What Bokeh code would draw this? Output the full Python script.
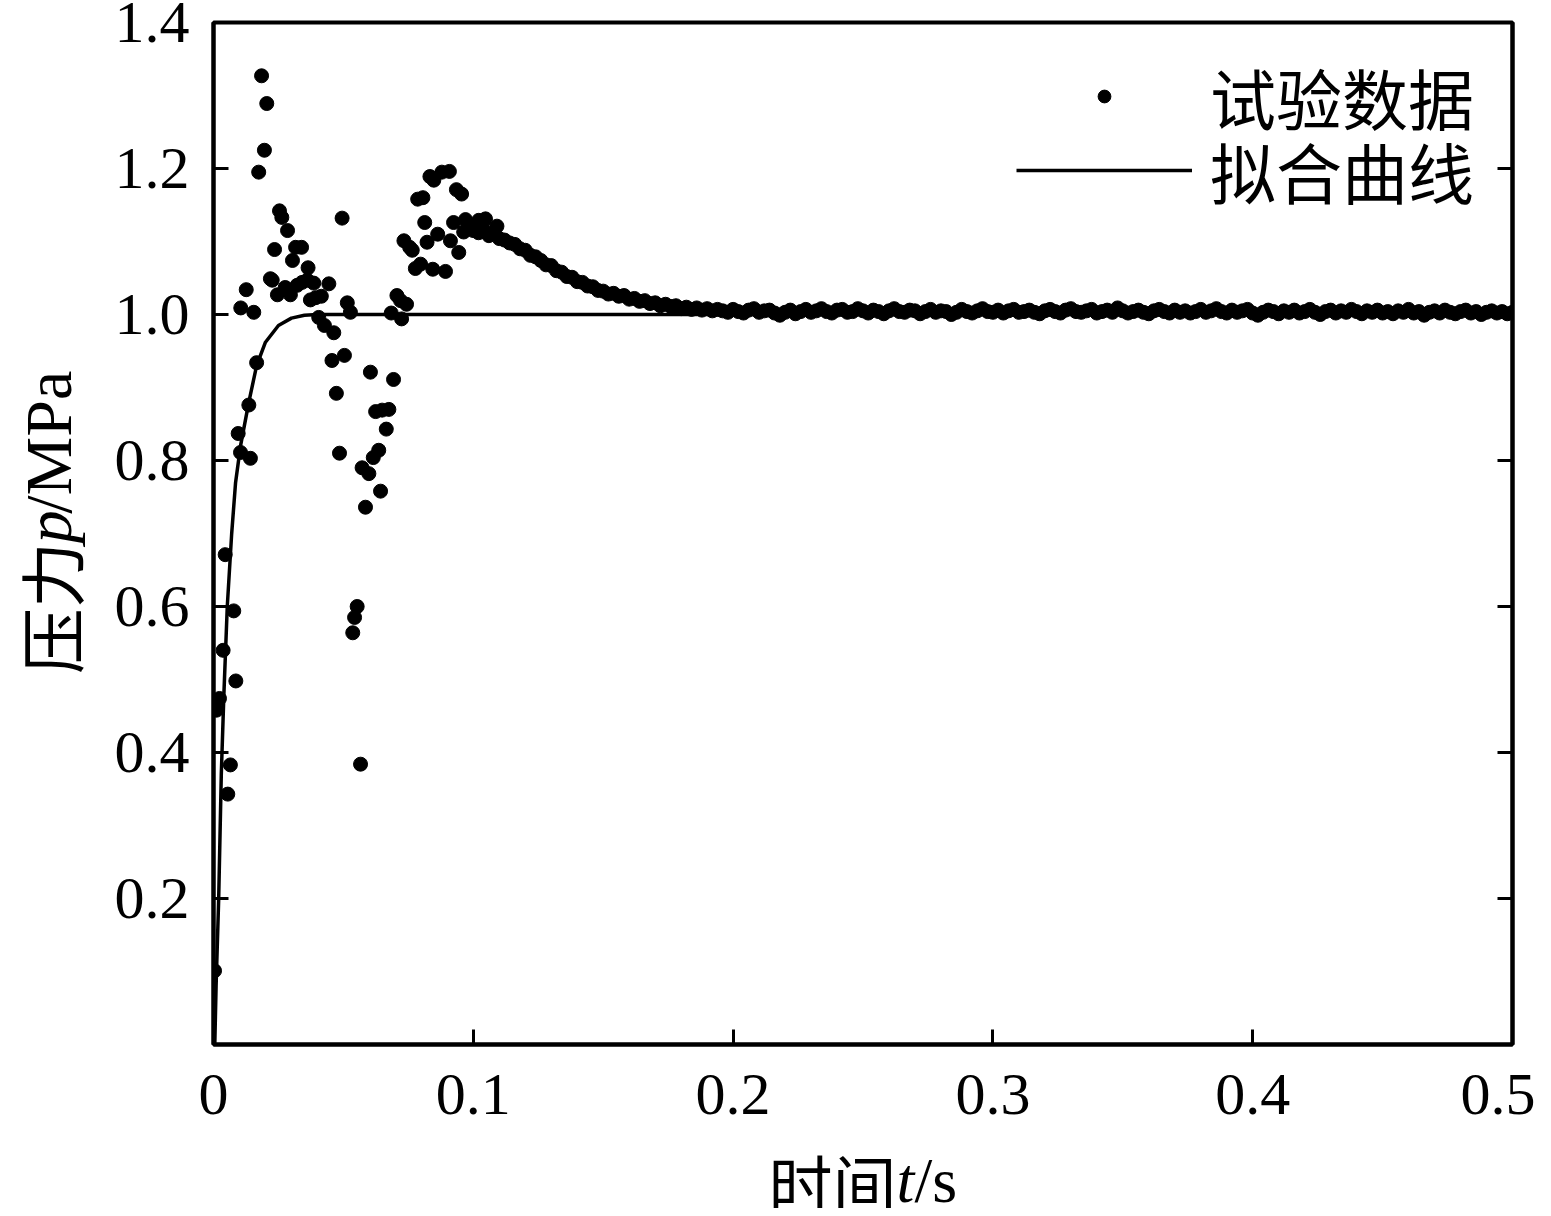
import numpy as np
from bokeh.plotting import figure
from bokeh.models import (Range1d, LinearAxis, FixedTicker, NumeralTickFormatter,
                          Legend, LegendItem, Spacer)
from bokeh.layouts import row, column
from bokeh.core.properties import value
from bokeh.embed import file_html
from bokeh.resources import INLINE

# ---- experimental data: early scattered samples (t in s, p in MPa) ----
early_t = [0.0004, 0.0012, 0.0023, 0.0037, 0.0045, 0.0055, 0.0065, 0.0078, 0.0086, 0.0095,
           0.0104, 0.0105, 0.0126, 0.0136, 0.0142, 0.0155, 0.0166, 0.0174, 0.0185, 0.0196,
           0.0205, 0.0219, 0.0226, 0.0235, 0.0246, 0.0254, 0.0263, 0.0276, 0.0285, 0.0296,
           0.0304, 0.0316, 0.0322, 0.0339, 0.0341, 0.0361, 0.0364, 0.0373, 0.0386, 0.0393,
           0.0405, 0.0415, 0.0427, 0.0444, 0.0456, 0.0463, 0.0473, 0.0485, 0.0495, 0.0504,
           0.0515, 0.0527, 0.0536, 0.0543, 0.0553, 0.0566, 0.0572, 0.0585, 0.0598, 0.0604,
           0.0615, 0.0624, 0.0636, 0.0643, 0.0649, 0.0665, 0.0675, 0.0684, 0.0693, 0.0706,
           0.0720, 0.0724, 0.0733, 0.0743, 0.0755, 0.0765, 0.0777, 0.0786, 0.0797, 0.0806,
           0.0813, 0.0822, 0.0833, 0.0844, 0.0848, 0.0863, 0.0879, 0.0893, 0.0908, 0.0912,
           0.0924, 0.0935, 0.0944, 0.0955, 0.0963, 0.0970, 0.1002, 0.1021, 0.1047, 0.1091]
early_p = [0.101, 0.458, 0.474, 0.540, 0.671, 0.343, 0.383, 0.594, 0.498, 0.837,
           0.811, 1.009, 1.034, 0.876, 0.803, 1.003, 0.934, 1.195, 1.327, 1.225,
           1.289, 1.049, 1.047, 1.089, 1.027, 1.142, 1.133, 1.037, 1.115, 1.027,
           1.074, 1.092, 1.040, 1.092, 1.044, 1.047, 1.064, 1.020, 1.043, 1.023,
           0.996, 1.025, 0.985, 1.042, 0.937, 0.975, 0.892, 0.810, 1.132, 0.944,
           1.016, 1.003, 0.564, 0.585, 0.600, 0.384, 0.790, 0.736, 0.782, 0.921,
           0.804, 0.867, 0.814, 0.758, 0.869, 0.843, 0.870, 1.002, 0.911, 1.026,
           1.019, 0.994, 1.101, 1.014, 1.092, 1.088, 1.063, 1.158, 1.069, 1.160,
           1.126, 1.099, 1.189, 1.062, 1.184, 1.110, 1.195, 1.059, 1.196, 1.101,
           1.126, 1.171, 1.085, 1.165, 1.113, 1.130, 1.119, 1.129, 1.131, 1.121]

# ---- experimental data: regular samples every 2 ms from 0.100 s ----
sample_start = 0.100
sample_step = 0.002
band_p = [1.115, 1.112, 1.116, 1.108, 1.111, 1.104, 1.102, 1.098, 1.096, 1.090,
          1.088, 1.081, 1.079, 1.074, 1.068, 1.067, 1.060, 1.058, 1.052, 1.051,
          1.045, 1.044, 1.039, 1.038, 1.033, 1.032, 1.028, 1.029, 1.025, 1.026,
          1.021, 1.022, 1.018, 1.019, 1.015, 1.016, 1.012, 1.014, 1.011, 1.012,
          1.008, 1.010, 1.007, 1.009, 1.006, 1.008, 1.005, 1.007]
tail_p = [1.005, 1.003, 1.007, 1.004, 1.002, 1.006, 1.008, 1.003, 1.005, 1.006,
          1.002, 0.999, 1.003, 1.006, 1.001, 1.004, 1.007, 1.003, 1.005, 1.008,
          1.004, 1.002, 1.006, 1.007, 1.003, 1.004, 1.008, 1.005, 1.002, 1.006,
          1.004, 1.001, 1.005, 1.008, 1.004, 1.003, 1.006, 1.005, 1.001, 1.004,
          1.007, 1.003, 1.005, 1.004, 1.000, 1.003, 1.007, 1.004, 1.002, 1.005,
          1.008, 1.004, 1.003, 1.006, 1.002, 1.005, 1.007, 1.003, 1.004, 1.006,
          1.003, 1.001, 1.005, 1.007, 1.004, 1.002, 1.006, 1.008, 1.004, 1.003,
          1.005, 1.007, 1.002, 1.004, 1.006, 1.003, 1.009, 1.005, 1.002, 1.004,
          1.006, 1.003, 1.001, 1.005, 1.007, 1.004, 1.002, 1.006, 1.003, 1.005,
          1.002, 1.004, 1.007, 1.003, 1.005, 1.008, 1.004, 1.002, 1.006, 1.003,
          1.005, 1.007, 1.002, 0.999, 1.003, 1.006, 1.004, 1.001, 1.005, 1.003,
          1.006, 1.002, 1.004, 1.007, 1.003, 1.000, 1.004, 1.006, 1.002, 1.005,
          1.003, 1.007, 1.004, 1.001, 1.005, 1.003, 1.006, 1.002, 1.004, 1.001,
          1.005, 1.003, 1.007, 1.002, 1.004, 0.999, 1.003, 1.005, 1.002, 1.006,
          1.003, 1.001, 1.004, 1.006, 1.002, 1.004, 1.000, 1.003, 1.005, 1.002,
          1.004, 1.001, 1.003]

# ---- fitted curve ----
fit_t = [0.0005, 0.0010, 0.0020, 0.0030, 0.0040, 0.0053, 0.0070, 0.0085, 0.0104, 0.0136,
         0.0166, 0.0200, 0.0250, 0.0300, 0.0350, 0.0400, 0.5000]
fit_p = [0.000, 0.080, 0.200, 0.370, 0.480, 0.600, 0.700, 0.770, 0.820, 0.880,
         0.930, 0.962, 0.985, 0.995, 0.999, 1.000, 1.000]

x_ticks = [0, 0.1, 0.2, 0.3, 0.4, 0.5]
y_ticks = [0.2, 0.4, 0.6, 0.8, 1.0, 1.2, 1.4]
legend_labels = ["试验数据", "拟合曲线"]

reg_p = band_p + tail_p
reg_t = list(np.round(sample_start + sample_step * np.arange(len(reg_p)), 4))
all_t = early_t + reg_t
all_p = early_p + reg_p

SERIF = "Liberation Serif"
CJK = "Noto Sans CJK SC"

YLAB_W = 100
TOTAL_W = 1535
MAIN_W = TOTAL_W - YLAB_W
MAIN_H = 1142
XLAB_H = 66
FRAME_L, FRAME_R, FRAME_T, FRAME_B = 213, 1512, 22, 1044

p = figure(width=MAIN_W, height=MAIN_H,
           x_range=Range1d(0, 0.5), y_range=Range1d(0, 1.4),
           output_backend="svg", toolbar_location=None,
           min_border_left=FRAME_L - YLAB_W, min_border_right=TOTAL_W - FRAME_R,
           min_border_top=FRAME_T, min_border_bottom=MAIN_H - FRAME_B)
p.background_fill_color = "white"
p.border_fill_color = "white"
p.xgrid.visible = False
p.ygrid.visible = False
p.outline_line_color = "black"
p.outline_line_width = 4

p.xaxis.ticker = FixedTicker(ticks=x_ticks)
p.yaxis.ticker = FixedTicker(ticks=y_ticks)
p.yaxis.formatter = NumeralTickFormatter(format="0.0")
for ax in (p.xaxis[0], p.yaxis[0]):
    ax.axis_line_width = 4
    ax.axis_line_color = "black"
    ax.major_tick_line_width = 3
    ax.major_tick_line_color = "black"
    ax.major_tick_in = 15
    ax.major_tick_out = 0
    ax.minor_tick_line_color = None
    ax.major_label_text_font = SERIF
    ax.major_label_text_font_size = "60px"
    ax.major_label_text_color = "black"
p.xaxis.major_label_standoff = 30
p.yaxis.major_label_standoff = 24

right_ax = LinearAxis(ticker=FixedTicker(ticks=y_ticks),
                      axis_line_width=4, axis_line_color="black",
                      major_tick_line_width=3, major_tick_line_color="black",
                      major_tick_in=15, major_tick_out=0,
                      minor_tick_line_color=None,
                      major_label_text_font_size="0px", major_label_standoff=0,
                      major_label_overrides={t: "" for t in y_ticks})
p.add_layout(right_ax, "right")

r_sc = p.scatter(all_t, all_p, size=14, marker="circle",
                 fill_color="black", line_color="black")
r_ln = p.line(fit_t, fit_p, line_width=3.5, line_color="black")

# two one-row legends so the rows can sit closer than the CJK line height
LEG_H = 104
for lab, rend, cy in [(legend_labels[0], r_sc, 92), (legend_labels[1], r_ln, 166)]:
    lg = Legend(items=[LegendItem(label=lab, renderers=[rend])],
                location=(1016 - FRAME_L, FRAME_B - (cy + LEG_H // 2)),
                glyph_width=176, glyph_height=32,
                label_standoff=18, spacing=0, padding=0, margin=0,
                label_text_font=CJK, label_text_font_size="66px",
                label_text_color="black",
                border_line_alpha=0, background_fill_alpha=0)
    p.add_layout(lg)

# ---- y-axis title panel (left); rotated text needs a baseline shift ----
ylab = figure(width=YLAB_W, height=MAIN_H, x_range=Range1d(0, YLAB_W),
              y_range=Range1d(0, MAIN_H), output_backend="svg", toolbar_location=None,
              x_axis_location=None, y_axis_location=None, min_border=0)
ylab.grid.visible = False
ylab.outline_line_color = None
ang = np.pi / 2
XC = 48
ylab.text(x=[XC], y=[MAIN_H - 680 - 48], text=["压力"], angle=ang, text_font=value(CJK),
          text_font_size="66px", text_align="left", text_baseline="middle", text_color="black")
ylab.text(x=[XC], y=[MAIN_H - 546 - 36], text=["p"], angle=ang, text_font=value(SERIF),
          text_font_style="italic", text_font_size="66px", text_align="left",
          text_baseline="middle", text_color="black")
ylab.text(x=[XC], y=[MAIN_H - 513 - 36], text=["/MPa"], angle=ang, text_font=value(SERIF),
          text_font_size="66px", text_align="left", text_baseline="middle", text_color="black")

# ---- x-axis title panel (below) ----
xlab = figure(width=MAIN_W, height=XLAB_H, x_range=Range1d(YLAB_W, TOTAL_W),
              y_range=Range1d(0, XLAB_H), output_backend="svg", toolbar_location=None,
              x_axis_location=None, y_axis_location=None, min_border=0)
xlab.grid.visible = False
xlab.outline_line_color = None
yc = MAIN_H + XLAB_H - 1180
xlab.text(x=[768], y=[yc], text=["时间"], text_font=value(CJK), text_font_size="64px",
          text_align="left", text_baseline="middle", text_color="black")
xlab.text(x=[896], y=[yc], text=["t"], text_font=value(SERIF), text_font_style="italic",
          text_font_size="64px", text_align="left", text_baseline="middle", text_color="black")
xlab.text(x=[914], y=[yc], text=["/s"], text_font=value(SERIF), text_font_size="64px",
          text_align="left", text_baseline="middle", text_color="black")

layout = column(row(ylab, p), row(Spacer(width=YLAB_W, height=XLAB_H), xlab))

open("out.html", "w").write(file_html(layout, INLINE))
